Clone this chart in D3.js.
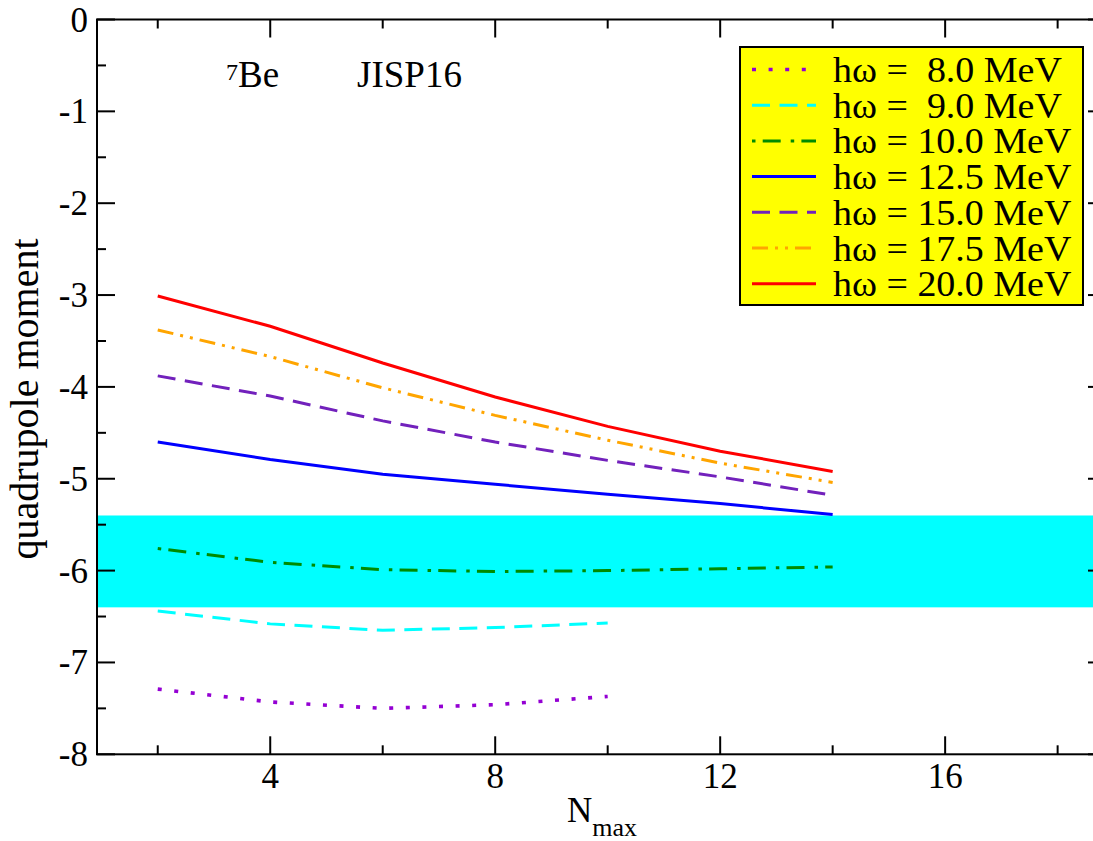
<!DOCTYPE html>
<html>
<head>
<meta charset="utf-8">
<script src="https://cdn.jsdelivr.net/npm/d3@7"></script>
<style>
  html, body { margin: 0; padding: 0; background: #fff; }
  svg { display: block; }
  text { font-family: "Liberation Serif", "Times New Roman", serif; fill: #000; }
</style>
</head>
<body>
<svg id="chart" width="1093" height="841"></svg>
<script>
// ---- data ----
const nmax = [2, 4, 6, 8, 10, 12, 14];
const hw8  = [-7.29, -7.43, -7.50, -7.46, -7.37];
const hw9  = [-6.44, -6.58, -6.65, -6.62, -6.57];
const hw10 = [-5.76, -5.91, -5.99, -6.01, -6.00, -5.98, -5.96];
const hw125 = [-4.60, -4.79, -4.95, -5.06, -5.17, -5.27, -5.39];
const hw15 = [-3.88, -4.10, -4.37, -4.60, -4.80, -4.98, -5.18];
const hw175 = [-3.38, -3.67, -4.01, -4.31, -4.58, -4.83, -5.04];
const hw20 = [-3.01, -3.34, -3.74, -4.11, -4.43, -4.70, -4.92];
const bandRange = [-6.4, -5.4];
const legendLabels = ["hω =  8.0 MeV", "hω =  9.0 MeV", "hω = 10.0 MeV", "hω = 12.5 MeV",
                      "hω = 15.0 MeV", "hω = 17.5 MeV", "hω = 20.0 MeV"];
const xTicksMajor = [4, 8, 12, 16];
const xTicksMinor = [2, 6, 10, 14, 18];
const yTicksMajor = [0, -1, -2, -3, -4, -5, -6, -7, -8];
const yTicksMinor = [-0.5, -1.5, -2.5, -3.5, -4.5, -5.5, -6.5, -7.5];

// ---- styles ----
const seriesStyle = [
  { data: hw8,   color: "#9400D3", dash: "4,12.6" },
  { data: hw9,   color: "#00FFFF", dash: "18,9.5" },
  { data: hw10,  color: "#008B00", dash: "3.5,7.2,18,10" },
  { data: hw125, color: "#0000FF", dash: null },
  { data: hw15,  color: "#7221BC", dash: "18,9.5" },
  { data: hw175, color: "#FFA500", dash: "16,7,3,7,3,7" },
  { data: hw20,  color: "#FF0000", dash: null }
];

const svg = d3.select("#chart");
const x = d3.scaleLinear().domain([0.92, 18.86]).range([97, 1106]);
const y = d3.scaleLinear().domain([-8, 0]).range([754.3, 19.5]);
const [x0, x1] = x.range();
const [yb, yt] = y.range();

// band
svg.append("rect")
  .attr("x", x0).attr("width", x1 - x0)
  .attr("y", y(bandRange[1])).attr("height", y(bandRange[0]) - y(bandRange[1]))
  .attr("fill", "#00FFFF");

// lines
const line = d3.line().x((d, i) => x(nmax[i])).y(d => y(d));
seriesStyle.forEach(s => {
  svg.append("path")
    .datum(s.data)
    .attr("d", line)
    .attr("fill", "none")
    .attr("stroke", s.color)
    .attr("stroke-width", s.data === hw8 ? 3.6 : 3)
    .attr("stroke-dasharray", s.dash)
    .attr("stroke-linecap", "butt");
});

// frame
const frame = svg.append("g").attr("stroke", "#000").attr("stroke-width", 2).attr("fill", "none");
frame.append("rect").attr("x", x0).attr("y", yt).attr("width", x1 - x0).attr("height", yb - yt);

// x ticks (bottom and top, inward)
xTicksMajor.forEach(v => {
  frame.append("line").attr("x1", x(v)).attr("x2", x(v)).attr("y1", yb).attr("y2", yb - 18);
  frame.append("line").attr("x1", x(v)).attr("x2", x(v)).attr("y1", yt).attr("y2", yt + 18);
});
xTicksMinor.forEach(v => {
  frame.append("line").attr("x1", x(v)).attr("x2", x(v)).attr("y1", yb).attr("y2", yb - 9);
  frame.append("line").attr("x1", x(v)).attr("x2", x(v)).attr("y1", yt).attr("y2", yt + 9);
});
// y ticks (left and right, inward)
yTicksMajor.forEach(v => {
  frame.append("line").attr("x1", x0).attr("x2", x0 + 18).attr("y1", y(v)).attr("y2", y(v));
  frame.append("line").attr("x1", x1).attr("x2", x1 - 18).attr("y1", y(v)).attr("y2", y(v));
});
yTicksMinor.forEach(v => {
  frame.append("line").attr("x1", x0).attr("x2", x0 + 9).attr("y1", y(v)).attr("y2", y(v));
  frame.append("line").attr("x1", x1).attr("x2", x1 - 9).attr("y1", y(v)).attr("y2", y(v));
});

// tick labels
svg.append("g").selectAll("text").data(xTicksMajor).join("text")
  .attr("x", d => x(d)).attr("y", 788)
  .attr("text-anchor", "middle").attr("font-size", 35)
  .text(d => d);
svg.append("g").selectAll("text").data(yTicksMajor).join("text")
  .attr("x", 88).attr("y", d => y(d) + 12)
  .attr("text-anchor", "end").attr("font-size", 35)
  .text(d => d === 0 ? "0" : "-" + Math.abs(d));

// axis titles
const xt = svg.append("text").attr("x", 567).attr("y", 822).attr("font-size", 35);
xt.append("tspan").text("N");
xt.append("tspan").attr("font-size", 26).attr("dy", 14).text("max");

svg.append("text")
  .attr("transform", "translate(38,399) rotate(-90)")
  .attr("text-anchor", "middle").attr("font-size", 40)
  .text("quadrupole moment");

// annotations
svg.append("text").attr("x", 226).attr("y", 80).attr("font-size", 24).text("7");
svg.append("text").attr("x", 238).attr("y", 87).attr("font-size", 37).text("Be");
svg.append("text").attr("x", 357).attr("y", 87).attr("font-size", 37).text("JISP16");

// legend
const lg = svg.append("g");
lg.append("rect").attr("x", 740).attr("y", 47).attr("width", 343).attr("height", 258)
  .attr("fill", "#FFFF00").attr("stroke", "#000").attr("stroke-width", 2);
seriesStyle.forEach((s, i) => {
  const ly = 69.5 + i * 35.7;
  lg.append("line").attr("x1", 752).attr("x2", 816).attr("y1", ly).attr("y2", ly)
    .attr("stroke", s.color).attr("stroke-width", s.data === hw8 ? 3.6 : 3)
    .attr("stroke-dasharray", s.dash);
  const t = lg.append("text").attr("x", 833).attr("y", ly + 12.5).attr("font-size", 35)
    .style("white-space", "pre").text(legendLabels[i]);
  const w = t.node().getComputedTextLength();
  t.attr("textLength", w * 1.085).attr("lengthAdjust", "spacingAndGlyphs");
});
</script>
</body>
</html>
